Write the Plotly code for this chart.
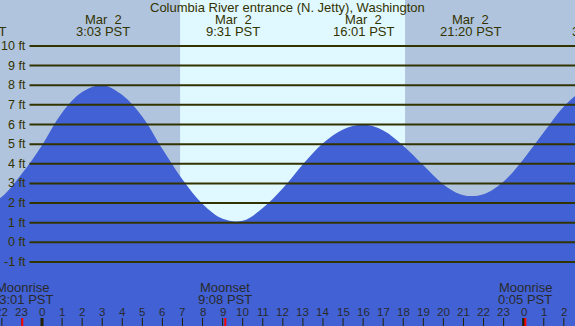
import plotly.graph_objects as go

# ---- data ----
hours = list(range(-4, 29))
heights = [1.85, 1.8, 2.32, 3.5, 4.95, 6.6, 7.65, 8.0, 7.5, 6.4, 4.75, 3.2, 1.95, 1.2, 1.1,
           1.75, 2.75, 3.98, 5.05, 5.75, 6.0, 5.7, 4.92, 3.92, 2.95, 2.4, 2.45, 3.1,
           4.25, 5.6, 6.92, 7.74, 7.9]

extreme_hours = [-3.3, 3.05, 9.517, 16.017, 21.333, 27.75]
extreme_dates = ["Mar\u00a0\u00a01", "Mar\u00a0\u00a02", "Mar\u00a0\u00a02",
                 "Mar\u00a0\u00a02", "Mar\u00a0\u00a02", "Mar\u00a0\u00a03"]
extreme_times = ["20:42 PST", "3:03 PST", "9:31 PST", "16:01 PST", "21:20 PST", "3:45 PST"]

sunrise = 6.88
sunset = 18.09

moon_hours = [-0.983, 9.133, 24.083]
moon_events = ["Moonrise", "Moonset", "Moonrise"]
moon_times = ["23:01 PST", "9:08 PST", "0:05 PST"]

level_values = list(range(-1, 11))
level_labels = [f"{v} ft" for v in level_values]

tick_hours = list(range(-2, 27))
tick_labels = [str(h % 24) for h in tick_hours]

title = "Columbia River entrance (N. Jetty), Washington"

# ---- styling ----
W, H = 575, 326
NIGHT = "#b0c4de"
DAY = "#e0f8ff"
WATER = "#4161d5"
INK = "#333300"
FONT = "Liberation Sans, Arial, sans-serif"
X_RANGE = [-2.093, 26.557]
Y_RANGE = [-4.26, 12.34]
PX_PER_HOUR = W / (X_RANGE[1] - X_RANGE[0])


def py(px):
    return 1 - px / H


fig = go.Figure()
fig.add_trace(go.Scatter(x=hours, y=[Y_RANGE[0] - 2] * len(hours), mode="lines",
                         line=dict(width=0), hoverinfo="skip"))
fig.add_trace(go.Scatter(x=hours, y=heights, mode="lines", fill="tonexty",
                         fillcolor=WATER, line=dict(width=0, shape="spline", color=WATER),
                         hoverinfo="skip"))

shapes = []
# daylight band
shapes.append(dict(type="rect", xref="x", yref="paper", x0=sunrise, x1=sunset, y0=0, y1=1,
                   fillcolor=DAY, line=dict(width=0), layer="below"))
# level lines
for v in level_values:
    shapes.append(dict(type="line", xref="paper", yref="y", x0=29.5 / W, x1=1, y0=v, y1=v,
                       line=dict(color=INK, width=2), layer="above"))
# hour ticks
for h in tick_hours:
    wdt = 3 if h % 24 == 0 else 1
    shapes.append(dict(type="line", xref="x", yref="paper", x0=h, x1=h, y0=0, y1=8 / H,
                       line=dict(color="#222200", width=wdt), layer="above"))
# moon ticks
for m in moon_hours:
    shapes.append(dict(type="line", xref="x", yref="paper", x0=m, x1=m, y0=0, y1=8 / H,
                       line=dict(color="#ff0000", width=2), layer="above"))

ann = []
ann.append(dict(text=title, xref="paper", yref="paper", x=0.5, y=py(7.5), showarrow=False,
                xanchor="center", yanchor="middle", font=dict(size=13, color=INK, family=FONT)))
for hx, d, t in zip(extreme_hours, extreme_dates, extreme_times):
    # labels whose time lies past an edge are anchored at that edge and shifted out,
    # so that their visible part is still drawn (as in the reference)
    ax_x = min(max(hx, X_RANGE[0]), X_RANGE[1])
    shift = (hx - ax_x) * PX_PER_HOUR
    for txt, row in ((d, 19.5), (t, 31.5)):
        ann.append(dict(text=txt, xref="x", yref="paper", x=ax_x, xshift=shift, y=py(row),
                        showarrow=False, xanchor="center", yanchor="middle",
                        font=dict(size=13, color=INK, family=FONT)))
for v, lab in zip(level_values, level_labels):
    ann.append(dict(text=lab, xref="paper", yref="y", x=27.5 / W, y=v, showarrow=False,
                    xanchor="right", yanchor="middle", font=dict(size=12.5, color=INK, family=FONT)))
for m, e, t in zip(moon_hours, moon_events, moon_times):
    ann.append(dict(text=e, xref="x", yref="paper", x=m, y=py(287.5), showarrow=False,
                    xanchor="center", yanchor="middle", font=dict(size=13, color="#2a2a2a", family=FONT)))
    ann.append(dict(text=t, xref="x", yref="paper", x=m, y=py(299.5), showarrow=False,
                    xanchor="center", yanchor="middle", font=dict(size=13, color="#2a2a2a", family=FONT)))
for h, lab in zip(tick_hours, tick_labels):
    ann.append(dict(text=lab, xref="x", yref="paper", x=h, y=py(311.7), showarrow=False,
                    xanchor="center", yanchor="middle", font=dict(size=11.5, color="#2a2a2a", family=FONT)))

fig.update_layout(
    width=W, height=H, margin=dict(l=0, r=0, t=0, b=0),
    plot_bgcolor=NIGHT, paper_bgcolor=NIGHT, showlegend=False,
    xaxis=dict(range=X_RANGE, visible=False, fixedrange=True),
    yaxis=dict(range=Y_RANGE, visible=False, fixedrange=True),
    shapes=shapes, annotations=ann,
)

fig.write_html("out.html", config={"displayModeBar": False},
               post_script="document.body.style.margin='0';document.body.style.overflow='hidden';")
